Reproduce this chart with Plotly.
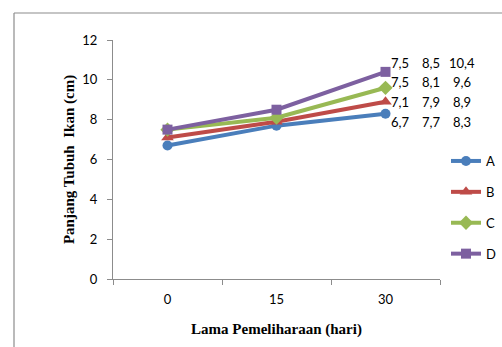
import plotly.graph_objects as go

days = ["0", "15", "30"]
series_names = ["A", "B", "C", "D"]
values_A = [6.7, 7.7, 8.3]
values_B = [7.1, 7.9, 8.9]
values_C = [7.5, 8.1, 9.6]
values_D = [7.5, 8.5, 10.4]
y_ticks = [0, 2, 4, 6, 8, 10, 12]

all_values = [values_A, values_B, values_C, values_D]
colors = ["#4A7EBB", "#BE4B48", "#98B954", "#7D60A0"]
symbols = ["circle", "triangle-up", "diamond", "square"]
msizes = [10, 11, 11, 10]

W, H = 502, 347
L, R, T, B = 113, 62, 40, 68
pw, ph = W - L - R, H - T - B

def px(x):
    return (x - L) / pw

def py(y):
    return (H - B - y) / ph

fig = go.Figure()
for i, (name, vals) in enumerate(zip(series_names, all_values)):
    fig.add_trace(go.Scatter(
        x=days, y=vals, name=name, mode="lines+markers",
        line=dict(color=colors[i], width=4),
        marker=dict(symbol=symbols[i], size=msizes[i], color=colors[i]),
        legendgroup=name,
    ))

# value table annotations (rows top to bottom: D, C, B, A)
row_y = [63, 82, 102, 122]
col_x = [400, 431, 462]
for r, vals in enumerate(reversed(all_values)):
    for c, v in enumerate(vals):
        fig.add_annotation(
            x=px(col_x[c]), y=py(row_y[r]), xref="paper", yref="paper",
            text=f"{v:.1f}".replace(".", ","), showarrow=False,
            font=dict(family="Lato", size=13, color="#000"),
            xanchor="center", yanchor="middle",
        )

# outer frame (partially visible)
fig.add_shape(type="line", xref="paper", yref="paper",
              x0=px(14), y0=py(13), x1=px(520), y1=py(13),
              line=dict(color="#8c8c8c", width=1.2))
fig.add_shape(type="line", xref="paper", yref="paper",
              x0=px(14), y0=py(13), x1=px(14), y1=py(360),
              line=dict(color="#8c8c8c", width=1.2))

fig.update_layout(
    width=W, height=H,
    margin=dict(l=L, r=R, t=T, b=B, autoexpand=False),
    paper_bgcolor="white", plot_bgcolor="white",
    showlegend=True,
    legend=dict(x=446 / W, y=1 - 146 / H, xref="container", yref="container",
                xanchor="left", yanchor="top",
                traceorder="grouped", tracegroupgap=11,
                font=dict(family="Lato", size=13, color="#000"),
                itemwidth=30, bgcolor="rgba(0,0,0,0)"),
    xaxis=dict(
        type="category", range=[-0.5, 2.5], automargin=False,
        showline=True, linecolor="#8c8c8c", linewidth=1.2,
        ticks="outside", tickson="boundaries", ticklen=5, tickcolor="#8c8c8c",
        ticklabelstandoff=8,
        showgrid=False, zeroline=False,
        tickfont=dict(family="Lato", size=13, color="#000"),
        title=dict(text="<b>Lama Pemeliharaan (hari)</b>",
                   font=dict(family="Liberation Serif", size=15, color="#000"),
                   standoff=17),
    ),
    yaxis=dict(
        range=[0, 12], tickvals=y_ticks, automargin=False,
        showline=True, linecolor="#8c8c8c", linewidth=1.2,
        ticks="outside", ticklen=5, tickcolor="#8c8c8c",
        ticklabelstandoff=7,
        showgrid=False, zeroline=False,
        tickfont=dict(family="Lato", size=13, color="#000"),
        title=dict(text="<b>Panjang Tubuh  Ikan (cm)</b>",
                   font=dict(family="Liberation Serif", size=15, color="#000"),
                   standoff=3),
    ),
)

fig.write_html("out.html")
